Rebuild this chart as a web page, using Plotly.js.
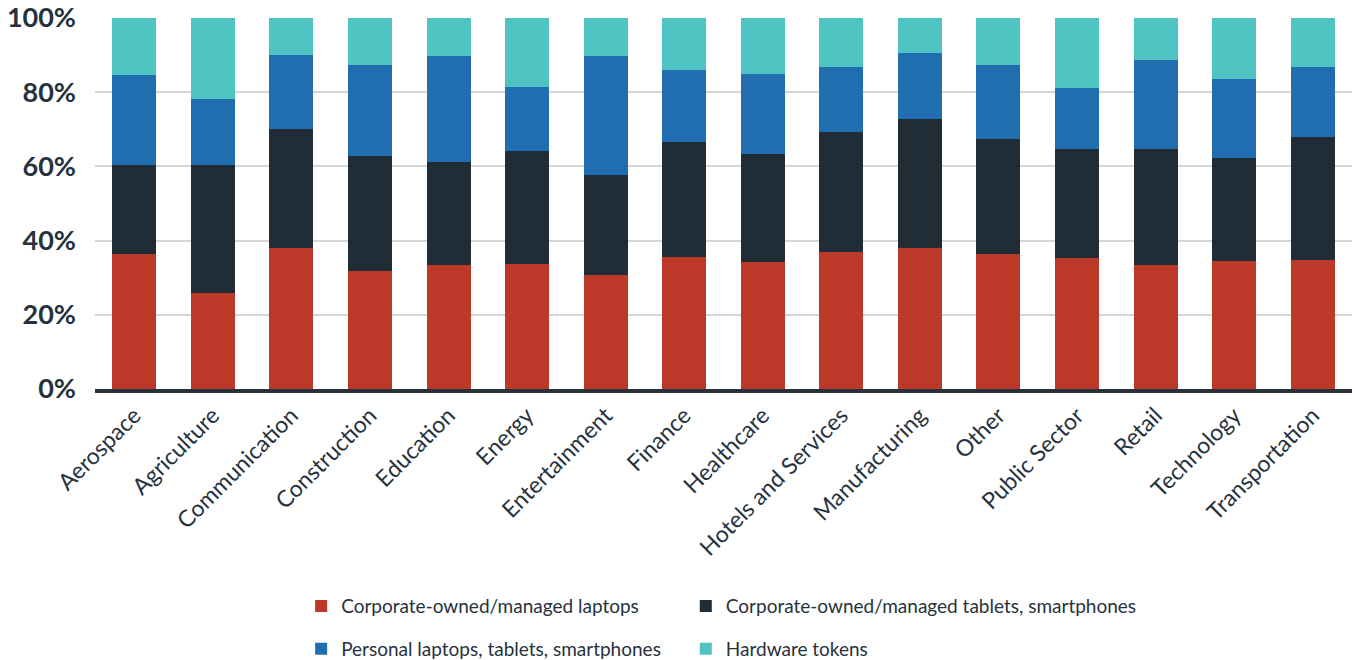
<!DOCTYPE html>
<html>
<head>
<meta charset="utf-8">
<script src="https://cdn.plot.ly/plotly-3.0.1.min.js"></script>
<style>html,body{margin:0;padding:0;background:#fff;}#chart{width:1355px;height:660px;}</style>
</head>
<body>
<div id="chart"></div>
<script>
const categories = ["Aerospace","Agriculture","Communication","Construction","Education","Energy","Entertainment","Finance","Healthcare","Hotels and Services","Manufacturing","Other","Public Sector","Retail","Technology","Transportation"];
const corpLaptops = [36.5,26.0,38.1,31.9,33.5,33.8,30.6,35.7,34.1,36.8,37.9,36.5,35.2,33.3,34.4,34.7];
const corpTablets = [24.0,34.5,32.1,31.0,27.6,30.3,27.0,30.8,29.2,32.6,35.0,30.8,29.4,31.3,27.8,33.1];
const personal    = [24.1,17.6,19.7,24.4,28.6,17.2,32.1,19.4,21.5,17.3,17.6,20.0,16.5,24.0,21.3,18.9];
const hwTokens    = [15.4,21.9,10.1,12.7,10.3,18.7,10.3,14.1,15.2,13.3,9.5,12.7,18.9,11.4,16.5,13.3];
const seriesNames = ["Corporate-owned/managed laptops","Corporate-owned/managed tablets, smartphones","Personal laptops, tablets, smartphones","Hardware tokens"];
const colors = ["#bc3829","#202c36","#206daf","#4fc2c2"];
const yTicks = [0,20,40,60,80,100];

const series = [corpLaptops, corpTablets, personal, hwTokens];
const legendFor = ["legend","legend2","legend","legend2"];
const traces = series.map((vals,i)=>({
  type:'bar', x:categories, y:vals, name:seriesNames[i],
  marker:{color:colors[i], line:{width:0}},
  legend:legendFor[i], legendgroup:'g'+i,
  hovertemplate:'%{x}: %{y}%<extra></extra>'
}));

const txt = '#26323d';
const legendFont = {family:'Lato', size:19, color:txt};
const layout = {
  width:1355, height:660,
  margin:{l:95, r:3, t:18, b:271, autoexpand:false},
  paper_bgcolor:'#fff', plot_bgcolor:'#fff',
  barmode:'stack', bargap:0.44,
  font:{family:'Lato', color:txt},
  xaxis:{
    type:'category', tickangle:-45, showgrid:false,
    showline:true, linecolor:'#26313b', linewidth:4,
    tickfont:{family:'Lato', size:23, color:txt},
    ticks:'', fixedrange:true, automargin:false
  },
  yaxis:{
    range:[0,100], tickvals:yTicks, ticktext:yTicks.map(v=>v+'%'),
    showgrid:true, gridcolor:'#d6d6d6', gridwidth:2, zeroline:false,
    tickfont:{family:'Lato', size:27, weight:700, color:txt},
    ticks:'', ticklabelstandoff:18, fixedrange:true, automargin:false
  },
  legend:{x:0.164, xanchor:'left', y:-0.534, yanchor:'top', orientation:'v',
    traceorder:'grouped', tracegroupgap:15, font:legendFont, bgcolor:'rgba(0,0,0,0)'},
  legend2:{x:0.47, xanchor:'left', y:-0.534, yanchor:'top', orientation:'v',
    traceorder:'grouped', tracegroupgap:15, font:legendFont, bgcolor:'rgba(0,0,0,0)'},
  showlegend:true
};
Plotly.newPlot('chart', traces, layout, {displayModeBar:false, staticPlot:true});
</script>
</body>
</html>
